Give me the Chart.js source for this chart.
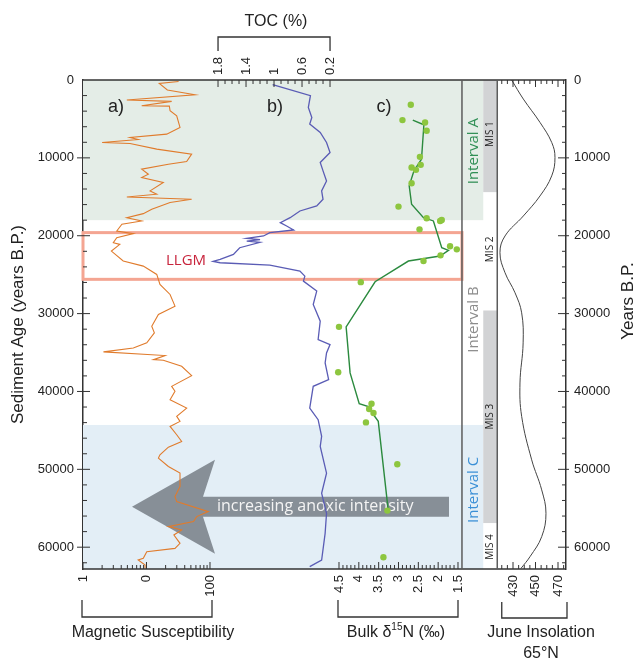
<!DOCTYPE html>
<html>
<head>
<meta charset="utf-8">
<script src="https://cdn.jsdelivr.net/npm/chart.js@4"></script>
<style>
html, body { margin: 0; padding: 0; background: #fff; }
#caixa { position: relative; width: 638px; height: 663px; }
</style>
</head>
<body>
<div id="caixa"><canvas id="grafico" width="638" height="663"></canvas></div>
<script>
// ---- dados (idade em anos B.P.) ----
const idadeTicks = [0, 10000, 20000, 30000, 40000, 50000, 60000];

// a) susceptibilidade magnetica
const msIdade = [200, 430, 1290, 1890, 2570, 2750, 3300, 3350, 3950, 4590, 6090, 6950, 7380, 7640, 8020, 8150, 8880, 9520, 10470, 10810,
  11450, 12100, 12530, 13170, 14240, 14670, 15020, 15320, 15740, 16600, 17160, 17680, 18100, 18530, 19390, 19730, 20250, 20890, 21110, 21970,
  23250, 23900, 24970, 26260, 27540, 29040, 30120, 31620, 32480, 33760, 34410, 34920, 35390, 35910, 35990, 36770, 37970, 39340, 39980, 41060,
  42130, 43200, 43840, 44490, 45560, 46420, 47150, 48130, 48560, 49640, 50490, 52210, 53500, 54140, 55430, 56070, 56710, 57360, 57790, 58430,
  59500, 60150, 60580, 61430, 61650, 62290, 62720];
const msValor = [32, 15.9, 21.3, 58, 4.9, 24.9, 8.4, 22.9, 23.5, 29.9, 33.7, 20.8, 5.5, 7.4, 2.0, 5.5, 14.5, 51.4, 42.9, 22.1,
  8.4, 10.7, 8.4, 18.4, 11.4, 14.5, 4.9, 51.4, 23.5, 12.1, 8.9, 4.9, 8.4, 4.1, 3.4, 6.2, 3.4, 3.0, 3.8, 2.8,
  4.3, 8.9, 14.5, 16.3, 23.5, 28.1, 15.4, 12.1, 13.3, 10.1, 6.2, 2.1, 19.6, 12.9, 18.4, 35.8, 51.4, 24.9, 28.1, 23.5,
  42.9, 29.9, 33.7, 23.5, 29.9, 35.8, 22.1, 16.3, 15.4, 22.1, 33.7, 33.7, 28.1, 29.9, 94, 61.7, 55, 22.1, 35.8, 27,
  33.7, 28.1, 10.1, 8.9, 7.4, 9.5, 9.5];

// b) TOC (%)
const tocIdade = [600, 2020, 3520, 4810, 5660, 6740, 8020, 9310, 10600, 11670, 12960, 14240, 15320, 16170, 16820, 17680, 18320, 18750, 19260, 19610,
  20030, 20340, 20510, 20680, 20850, 21540, 22390, 23040, 23300, 23470, 23770, 24540, 25180, 25830, 27110, 28830, 30970, 33330, 33980, 35050,
  36340, 38480, 39340, 42130, 43630, 45770, 47060, 50490, 53070, 55640, 58220, 61650, 62500];
const tocValor = [1.02, 0.48, 0.51, 0.46, 0.49, 0.34, 0.25, 0.20, 0.34, 0.30, 0.25, 0.32, 0.30, 0.39, 0.63, 0.77, 0.91, 0.82, 0.72, 1.06,
  1.15, 1.39, 1.20, 1.39, 1.20, 1.49, 1.58, 1.77, 1.87, 1.77, 1.06, 0.63, 0.56, 0.58, 0.39, 0.44, 0.34, 0.37, 0.20, 0.25,
  0.27, 0.22, 0.44, 0.49, 0.37, 0.32, 0.34, 0.25, 0.32, 0.25, 0.27, 0.32, 0.49];

// c) delta 15N - amostras e curva
const d15nIdade = [3180, 5150, 5450, 6520, 9870, 10900, 11240, 11540, 13260, 16260, 17760, 18100, 17980, 19180, 21360, 21750, 22520, 23250,
  25960, 31700, 37540, 41570, 42260, 42770, 43970, 49340, 55300, 61300];
const d15nValor = [2.69, 2.90, 2.33, 2.29, 2.46, 2.44, 2.67, 2.56, 2.67, 3.00, 2.29, 1.95, 1.91, 2.47, 1.70, 1.53, 1.94, 2.37,
  3.95, 4.50, 4.52, 3.68, 3.74, 3.63, 3.82, 3.03, 3.28, 3.38];
const d15nLinhaIdade = [5150, 5750, 10170, 11670, 13600, 15960, 17680, 18100, 21540, 21880, 22610, 23250, 25910, 31700, 37620, 41570, 42000, 42560, 43840, 55210];
const d15nLinhaValor = [2.64, 2.36, 2.42, 2.61, 2.73, 2.67, 2.37, 2.12, 1.91, 1.74, 1.95, 2.75, 3.59, 4.32, 4.22, 3.99, 3.72, 3.69, 3.51, 3.26];

// insolacao de junho 65N
const insIdade = [0, 2450, 5450, 8020, 9950, 12310, 14890, 17460, 20030, 22180, 24750, 27330, 29900, 33760, 38910, 43200, 48780, 52640, 55640, 58650, 61220, 62720];
const insValor = [428.8, 439.2, 454, 464.4, 467.3, 464.4, 454, 439.2, 422.9, 418.4, 422.9, 431.8, 437.7, 439, 436.2, 437.7, 446.6, 455.5, 459.3, 455.5, 445.1, 437.1];

// rotulos dos eixos
const tocMarcas = [1.8, 1.4, 1, 0.6, 0.2];
const tocRotulos = ['1.8', '1.4', '1', '0.6', '0.2'];
const msMarcas = [1, 10, 100];
const msRotulos = ['1', '0', '100'];
const d15nMarcas = [4.5, 4, 3.5, 3, 2.5, 2, 1.5];
const d15nRotulos = ['4.5', '4', '3.5', '3', '2.5', '2', '1.5'];
const insMarcas = [430, 450, 470];
const insRotulos = ['430', '450', '470'];

// intervalos e estagios isotopicos
const faixaA = [0, 18000];
const faixaC = [44300, 62800];
const llgm = [19600, 25600];
const misCinza = [[0, 14400], [29600, 56900]];
const misNomes = ['MIS 1', 'MIS 2', 'MIS 3', 'MIS 4'];
const misCentro = [6950, 21750, 43240, 59970];
const intervaloNomes = ['Interval A', 'Interval B', 'Interval C'];
const intervaloCentro = [9140, 30760, 52640];
const intervaloCores = ['#2f8f55', '#8c8c8c', '#3a8fd6'];

const FONTE = '"Liberation Sans", Arial, sans-serif';
const FONTE2 = '"Open Sans", sans-serif';

function pares(idades, valores) {
    return idades.map((a, i) => ({ x: valores[i], y: a }));
}

function linha(ctx, x1, y1, x2, y2) {
    ctx.beginPath();
    ctx.moveTo(x1, y1);
    ctx.lineTo(x2, y2);
    ctx.stroke();
}

function textoGirado(ctx, txt, x, y, align) {
    ctx.save();
    ctx.translate(x, y);
    ctx.rotate(-Math.PI / 2);
    ctx.textAlign = align;
    ctx.textBaseline = 'middle';
    ctx.fillText(txt, 0, 0);
    ctx.restore();
}

function chave(ctx, x1, x2, yA, yB) {
    ctx.beginPath();
    ctx.moveTo(x1, yA);
    ctx.lineTo(x1, yB);
    ctx.lineTo(x2, yB);
    ctx.lineTo(x2, yA);
    ctx.stroke();
}

// fundo: faixas, colunas MIS, caixa LLGM e seta
const fundo = {
    id: 'fundo',
    beforeDatasetsDraw(chart) {
        const { ctx, chartArea: ca, scales: s } = chart;
        const insEsq = s.xIns.getPixelForValue(416);
        const colInt = insEsq - 14;
        const dir = s.xDn.getPixelForValue(1.4);
        const Y = v => s.y.getPixelForValue(v);
        ctx.save();
        ctx.fillStyle = '#e4ede7';
        ctx.fillRect(ca.left, Y(faixaA[0]), colInt - ca.left, Y(faixaA[1]) - Y(faixaA[0]));
        ctx.fillStyle = '#e3eef6';
        ctx.fillRect(ca.left, Y(faixaC[0]), colInt - ca.left, Y(faixaC[1]) - Y(faixaC[0]));
        ctx.fillStyle = '#d2d3d5';
        misCinza.forEach(([a, b]) => ctx.fillRect(colInt, Y(a), insEsq - colInt, Y(b) - Y(a)));

        // caixa LLGM
        ctx.strokeStyle = '#f4a592';
        ctx.lineWidth = 3;
        ctx.strokeRect(ca.left, Y(llgm[0]), dir - ca.left, Y(llgm[1]) - Y(llgm[0]));

        // seta "increasing anoxic intensity"
        const cy = Y(54800);
        ctx.fillStyle = '#878f97';
        ctx.beginPath();
        ctx.moveTo(132, cy);
        ctx.lineTo(215, cy - 47);
        ctx.lineTo(203, cy - 10);
        ctx.lineTo(449, cy - 10);
        ctx.lineTo(449, cy + 10);
        ctx.lineTo(203, cy + 10);
        ctx.lineTo(215, cy + 47);
        ctx.closePath();
        ctx.fill();
        ctx.fillStyle = '#f4f4f4';
        ctx.font = '16px ' + FONTE2;
        ctx.textAlign = 'left';
        ctx.textBaseline = 'middle';
        ctx.fillText('increasing anoxic intensity', 217, cy);
        ctx.restore();
    },
    afterDraw(chart) {
        const { ctx, chartArea: ca, scales: s } = chart;
        const insEsq = s.xIns.getPixelForValue(416);
        const colInt = insEsq - 14;
        const dir = s.xDn.getPixelForValue(1.4);
        const Y = v => s.y.getPixelForValue(v);
        ctx.save();

        // moldura
        ctx.strokeStyle = '#333';
        ctx.lineWidth = 1.3;
        linha(ctx, ca.left, ca.top, ca.right, ca.top);
        linha(ctx, ca.left, ca.bottom, ca.right, ca.bottom);
        ctx.strokeStyle = '#5c5c5c';
        ctx.lineWidth = 1.5;
        linha(ctx, dir, ca.top, dir, ca.bottom);
        linha(ctx, insEsq, ca.top, insEsq, ca.bottom);

        // marcas do eixo de idade (esquerda e direita)
        ctx.strokeStyle = '#333';
        ctx.lineWidth = 1;
        for (let a = 2000; a <= 62000; a += 2000) {
            const py = Y(a);
            const maior = a % 10000 === 0;
            linha(ctx, maior ? ca.left - 6 : ca.left, py, ca.left + (maior ? 7 : 4), py);
            linha(ctx, ca.right - (maior ? 8 : 4), py, maior ? ca.right + 3 : ca.right, py);
        }

        // TOC (topo)
        for (let k = 2; k <= 18; k++) {
            const px = s.xToc.getPixelForValue(k / 10);
            linha(ctx, px, ca.top, px, ca.top + ((18 - k) % 4 === 0 ? 7 : 4));
        }
        // susceptibilidade (base, log)
        [1, 10].forEach(d => {
            for (let m = 1; m <= 9; m++) {
                const px = s.x.getPixelForValue(d * m);
                linha(ctx, px, ca.bottom, px, ca.bottom - (m === 1 ? 7 : 4));
            }
        });
        const p100 = s.x.getPixelForValue(100);
        linha(ctx, p100, ca.bottom, p100, ca.bottom - 7);
        // delta 15N (base)
        for (let k = 15; k <= 45; k++) {
            const px = s.xDn.getPixelForValue(k / 10);
            linha(ctx, px, ca.bottom, px, ca.bottom - (k % 5 === 0 ? 7 : 4));
        }
        // insolacao (topo e base)
        for (let v = 420; v <= 475; v += 5) {
            const px = s.xIns.getPixelForValue(v);
            const len = insMarcas.includes(v) ? 7 : 4;
            linha(ctx, px, ca.bottom, px, ca.bottom - len);
            linha(ctx, px, ca.top, px, ca.top + len);
        }

        // rotulos das marcas
        ctx.fillStyle = '#222';
        ctx.font = '13px ' + FONTE;
        tocMarcas.forEach((v, i) => textoGirado(ctx, tocRotulos[i], s.xToc.getPixelForValue(v), ca.top - 5, 'left'));
        msMarcas.forEach((v, i) => textoGirado(ctx, msRotulos[i], s.x.getPixelForValue(v), ca.bottom + 6, 'right'));
        d15nMarcas.forEach((v, i) => textoGirado(ctx, d15nRotulos[i], s.xDn.getPixelForValue(v), ca.bottom + 6, 'right'));
        insMarcas.forEach((v, i) => textoGirado(ctx, insRotulos[i], s.xIns.getPixelForValue(v), ca.bottom + 6, 'right'));

        // chaves e titulos dos eixos
        ctx.strokeStyle = '#333';
        ctx.lineWidth = 1.3;
        const t1 = s.xToc.getPixelForValue(1.8), t2 = s.xToc.getPixelForValue(0.2);
        chave(ctx, t1, t2, 51, 37);
        chave(ctx, s.x.getPixelForValue(1) - 1, s.x.getPixelForValue(100) + 2, ca.bottom + 31, ca.bottom + 48);
        chave(ctx, s.xDn.getPixelForValue(4.5) - 1, s.xDn.getPixelForValue(1.5), ca.bottom + 31, ca.bottom + 48);
        chave(ctx, s.xIns.getPixelForValue(420), ca.right + 1, ca.bottom + 33, ca.bottom + 49);

        ctx.fillStyle = '#222';
        ctx.font = '16px ' + FONTE;
        ctx.textAlign = 'center';
        ctx.textBaseline = 'middle';
        ctx.fillText('TOC (%)', (t1 + t2) / 2 + 2, 22);
        ctx.fillText('Magnetic Susceptibility', 153, 633);
        ctx.fillText('June Insolation', 541, 633);
        ctx.fillText('65°N', 541, 654);

        // Bulk delta 15N com sobrescrito
        const p1 = 'Bulk δ', p2 = '15', p3 = 'N (‰)';
        ctx.font = '16px ' + FONTE;
        const w1 = ctx.measureText(p1).width, w3 = ctx.measureText(p3).width;
        ctx.font = '10px ' + FONTE;
        const w2 = ctx.measureText(p2).width;
        let x0 = 396 - (w1 + w2 + w3) / 2;
        ctx.textAlign = 'left';
        ctx.font = '16px ' + FONTE;
        ctx.fillText(p1, x0, 633);
        ctx.font = '10px ' + FONTE;
        ctx.fillText(p2, x0 + w1, 627);
        ctx.font = '16px ' + FONTE;
        ctx.fillText(p3, x0 + w1 + w2, 633);

        ctx.font = '17px ' + FONTE;
        textoGirado(ctx, 'Years B.P.', 628, 301, 'center');

        // letras dos paineis
        ctx.font = '18px ' + FONTE;
        ctx.textAlign = 'center';
        const yl = Y(3475);
        ctx.fillText('a)', 116, yl);
        ctx.fillText('b)', 275, yl);
        ctx.fillText('c)', 384, yl);

        ctx.fillStyle = '#c8243c';
        ctx.font = '15px ' + FONTE2;
        ctx.fillText('LLGM', 186, Y(23170));

        // colunas de intervalo e MIS
        ctx.font = '15px ' + FONTE2;
        intervaloNomes.forEach((n, i) => {
            ctx.fillStyle = intervaloCores[i];
            textoGirado(ctx, n, (dir + colInt) / 2 + 1, Y(intervaloCentro[i]), 'center');
        });
        ctx.fillStyle = '#222';
        ctx.font = '10px ' + FONTE2;
        misNomes.forEach((n, i) => textoGirado(ctx, n, (colInt + insEsq) / 2, Y(misCentro[i]), 'center'));
        ctx.restore();
    }
};

const grafico = new Chart(document.getElementById('grafico'), {
    type: 'scatter',
    data: {
        datasets: [
            {
                label: 'Bulk d15N',
                data: pares(d15nIdade, d15nValor),
                xAxisID: 'xDn',
                yAxisID: 'y',
                backgroundColor: '#8dc63f',
                borderWidth: 0,
                pointRadius: 3.2,
                showLine: false
            },
            {
                label: 'd15N curva',
                data: pares(d15nLinhaIdade, d15nLinhaValor),
                xAxisID: 'xDn',
                yAxisID: 'y',
                borderColor: '#2b8a3e',
                borderWidth: 1.4,
                pointRadius: 0,
                showLine: true
            },
            {
                label: 'TOC',
                data: pares(tocIdade, tocValor),
                xAxisID: 'xToc',
                yAxisID: 'y',
                borderColor: '#5a5cb5',
                borderWidth: 1.3,
                pointRadius: 0,
                showLine: true
            },
            {
                label: 'Magnetic Susceptibility',
                data: pares(msIdade, msValor),
                xAxisID: 'x',
                yAxisID: 'y',
                borderColor: '#e07b2c',
                borderWidth: 1.1,
                pointRadius: 0,
                showLine: true
            },
            {
                label: 'June Insolation',
                data: pares(insIdade, insValor),
                xAxisID: 'xIns',
                yAxisID: 'y',
                borderColor: '#444',
                borderWidth: 1,
                pointRadius: 0,
                showLine: true,
                tension: 0.4
            }
        ]
    },
    options: {
        responsive: false,
        animation: false,
        devicePixelRatio: 1,
        events: [],
        layout: { padding: { top: 80, bottom: 94, left: 0, right: 0 } },
        plugins: {
            legend: { display: false },
            tooltip: { enabled: false }
        },
        scales: {
            x: { type: 'logarithmic', display: false, min: 1, max: 4.04e7 },
            xToc: { type: 'linear', display: false, reverse: true, bounds: 'data', min: -3.171, max: 3.729 },
            xDn: { type: 'linear', display: false, reverse: true, bounds: 'data', min: -1.2225, max: 10.953 },
            xIns: { type: 'linear', display: false, bounds: 'data', min: 47.8, max: 477.1 },
            y: {
                type: 'linear',
                position: 'left',
                reverse: true,
                bounds: 'data',
                min: 0,
                max: 62800,
                afterBuildTicks: eixo => { eixo.ticks = idadeTicks.map(v => ({ value: v })); },
                afterFit: eixo => { eixo.width = 83; },
                grid: { display: false, drawTicks: false },
                border: { display: true, color: '#333', width: 1.5 },
                ticks: { padding: 9, color: '#222', font: { family: FONTE, size: 13 }, callback: v => String(v) },
                title: {
                    display: true,
                    text: 'Sediment Age (years B.P.)',
                    color: '#222',
                    font: { family: FONTE, size: 17 },
                    padding: { top: 8, bottom: 0 }
                }
            },
            y2: {
                type: 'linear',
                position: 'right',
                reverse: true,
                bounds: 'data',
                min: 0,
                max: 62800,
                afterBuildTicks: eixo => { eixo.ticks = idadeTicks.map(v => ({ value: v })); },
                afterFit: eixo => { eixo.width = 72; },
                grid: { display: false, drawTicks: false },
                border: { display: true, color: '#333', width: 1.5 },
                ticks: { padding: 8, color: '#222', font: { family: FONTE, size: 13 }, callback: v => String(v) }
            }
        }
    },
    plugins: [fundo]
});
</script>
</body>
</html>
